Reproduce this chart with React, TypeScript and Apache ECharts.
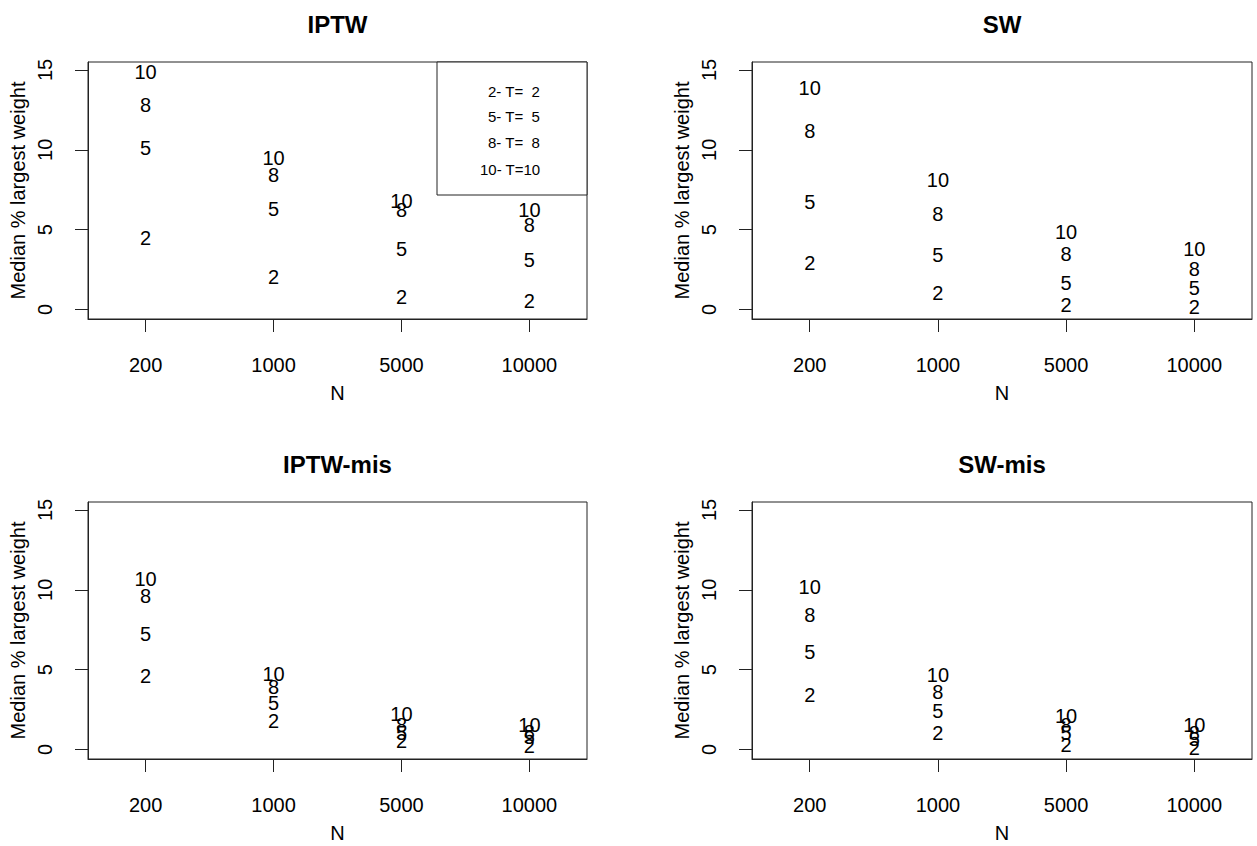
import React, { useEffect, useRef } from "react";
import * as echarts from "echarts";

// ---- data ----
const sampleSizes = ["200", "1000", "5000", "10000"];
const tValues = [2, 5, 8, 10];
const panelTitles = ["IPTW", "SW", "IPTW-mis", "SW-mis"];
const legendLabels = ["2- T=  2", "5- T=  5", "8- T=  8", "10- T=10"];
const yTicks = [0, 5, 10, 15];

// median % largest weight, one array per T, values at N = 200, 1000, 5000, 10000
const iptwT2 = [4.5, 2.0, 0.8, 0.5];
const iptwT5 = [10.1, 6.3, 3.8, 3.1];
const iptwT8 = [12.8, 8.4, 6.2, 5.3];
const iptwT10 = [14.9, 9.5, 6.8, 6.2];

const swT2 = [2.9, 1.05, 0.3, 0.17];
const swT5 = [6.7, 3.4, 1.65, 1.37];
const swT8 = [11.15, 6.0, 3.5, 2.55];
const swT10 = [13.85, 8.1, 4.85, 3.8];

const iptwMisT2 = [4.6, 1.8, 0.5, 0.2];
const iptwMisT5 = [7.2, 2.9, 1.0, 0.75];
const iptwMisT8 = [9.6, 3.9, 1.55, 1.1];
const iptwMisT10 = [10.65, 4.75, 2.2, 1.55];

const swMisT2 = [3.4, 1.0, 0.3, 0.1];
const swMisT5 = [6.1, 2.4, 1.0, 0.65];
const swMisT8 = [8.45, 3.6, 1.55, 1.05];
const swMisT10 = [10.2, 4.65, 2.1, 1.5];

const panelData = [
  [iptwT2, iptwT5, iptwT8, iptwT10],
  [swT2, swT5, swT8, swT10],
  [iptwMisT2, iptwMisT5, iptwMisT8, iptwMisT10],
  [swMisT2, swMisT5, swMisT8, swMisT10],
];

// ---- layout ----
const FONT = "'Liberation Sans', Arial, sans-serif";
const gridBoxes = [
  { left: 88, top: 62, width: 499, height: 257 },
  { left: 752, top: 62, width: 500, height: 257 },
  { left: 88, top: 502, width: 499, height: 257 },
  { left: 752, top: 502, width: 500, height: 257 },
];

export default function App() {
  const ref = useRef<HTMLDivElement>(null);

  useEffect(() => {
    if (!ref.current) return;
    const chart = echarts.init(ref.current, undefined, { renderer: "svg" });

    const grids = gridBoxes.map((g) => ({
      ...g,
      show: true,
      borderColor: "#222",
      borderWidth: 1,
      backgroundColor: "transparent",
      containLabel: false,
    }));

    const xValues = sampleSizes.map((_, i) => i + 1);

    const xAxes = gridBoxes.map((_, i) => ({
      gridIndex: i,
      type: "value",
      min: 0.55,
      max: 4.45,
      axisLine: { show: true, onZero: false, lineStyle: { color: "#222", width: 1 } },
      axisTick: { show: true, customValues: xValues, length: 13, lineStyle: { color: "#222" } },
      axisLabel: {
        customValues: xValues,
        formatter: (v: number) => sampleSizes[Math.round(v) - 1] ?? "",
        margin: 36,
        fontSize: 20,
        color: "#000",
        fontFamily: FONT,
      },
      splitLine: { show: false },
      name: "N",
      nameLocation: "middle",
      nameGap: 64,
      nameTextStyle: { fontSize: 20, color: "#000", fontFamily: FONT },
    }));

    const yAxes = gridBoxes.map((_, i) => ({
      gridIndex: i,
      type: "value",
      min: -0.6,
      max: 15.5,
      axisLine: { show: true, onZero: false, lineStyle: { color: "#222", width: 1 } },
      axisTick: { show: true, customValues: yTicks, length: 13, lineStyle: { color: "#222" } },
      axisLabel: {
        customValues: yTicks,
        rotate: 90,
        margin: 33,
        fontSize: 20,
        color: "#000",
        fontFamily: FONT,
      },
      splitLine: { show: false },
      name: "Median % largest weight",
      nameLocation: "middle",
      nameRotate: 90,
      nameGap: 60,
      nameTextStyle: { fontSize: 20, color: "#000", fontFamily: FONT },
    }));

    const series: any[] = [];
    panelData.forEach((panel, p) => {
      panel.forEach((vals, k) => {
        series.push({
          type: "scatter",
          name: legendLabels[k],
          xAxisIndex: p,
          yAxisIndex: p,
          symbol: "circle",
          symbolSize: 1,
          itemStyle: { color: "#000", opacity: 0 },
          data: vals.map((v, j) => [xValues[j], v]),
          label: {
            show: true,
            position: "inside",
            formatter: String(tValues[k]),
            fontSize: 20,
            color: "#000",
            opacity: 1,
            textBorderWidth: 0,
            textBorderColor: "transparent",
            fontFamily: FONT,
          },
          emphasis: { disabled: true },
          silent: true,
        });
      });
    });

    const titles = panelTitles.map((t, i) => ({
      text: t,
      left: gridBoxes[i].left + gridBoxes[i].width / 2,
      top: gridBoxes[i].top - 50,
      textAlign: "center",
      padding: 0,
      textStyle: { fontSize: 24, fontWeight: "bold", color: "#000", fontFamily: FONT },
    }));

    // legend box inside the IPTW panel
    const legendX = [488, 488, 488, 480];
    const legendY = [91, 116, 142, 169];
    const legendGraphic = [
      {
        type: "rect",
        shape: { x: 437, y: 62, width: 150, height: 133 },
        style: { fill: "#fff", stroke: "#222", lineWidth: 1 },
        z: 10,
      },
      ...legendLabels.map((t, i) => ({
        type: "text",
        x: legendX[i],
        y: legendY[i],
        style: {
          text: t,
          fontSize: 15,
          fill: "#000",
          fontFamily: FONT,
          textAlign: "left",
          textVerticalAlign: "middle",
        },
        z: 11,
      })),
    ];

    chart.setOption({
      animation: false,
      backgroundColor: "#fff",
      title: titles,
      grid: grids,
      xAxis: xAxes,
      yAxis: yAxes,
      series,
      graphic: legendGraphic,
    });

    return () => chart.dispose();
  }, []);

  return (
    <div
      ref={ref}
      style={{ position: "absolute", left: 0, top: 0, width: 1257, height: 846, background: "#fff" }}
    />
  );
}
